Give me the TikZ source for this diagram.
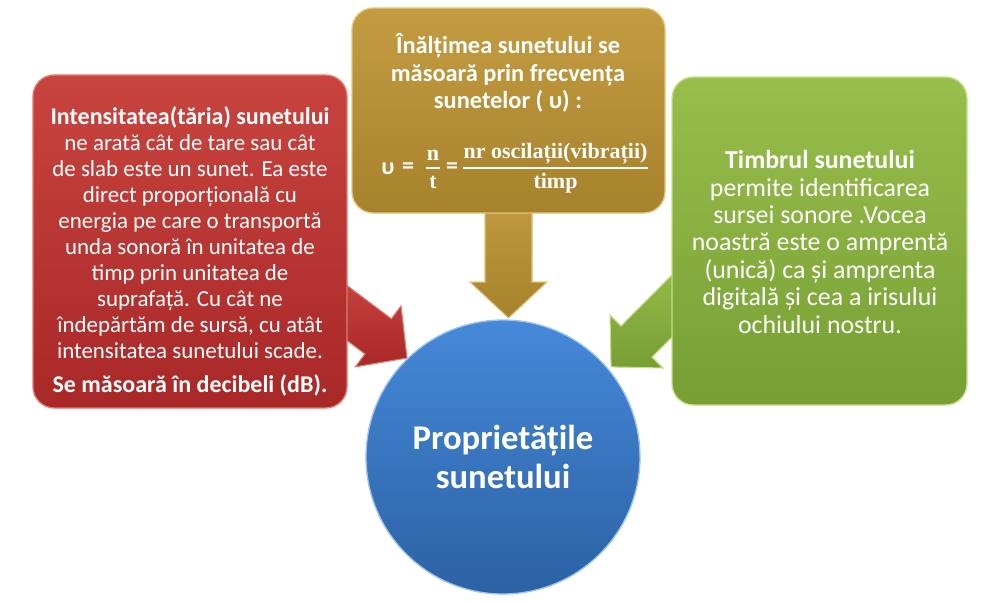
\documentclass[tikz,border=0pt]{standalone}
\usepackage{fontspec}
\setmainfont{Carlito}
\newfontfamily\formfont{Liberation Serif}
\definecolor{redT}{HTML}{C8443E}
\definecolor{redB}{HTML}{A82828}
\definecolor{redE}{HTML}{E07A72}
\definecolor{goldT}{HTML}{C49C42}
\definecolor{goldB}{HTML}{A6822C}
\definecolor{goldE}{HTML}{E2C47A}
\definecolor{greenT}{HTML}{98BF4C}
\definecolor{greenB}{HTML}{779E33}
\definecolor{greenE}{HTML}{C6E08A}
\definecolor{blueT}{HTML}{4589D8}
\definecolor{blueB}{HTML}{2C61A4}
\definecolor{blueE}{HTML}{9CC4F0}
\begin{document}
\begin{tikzpicture}[x=0.75pt,y=-0.75pt,
  box/.style={rectangle, rounded corners=16pt, inner sep=0pt, outer sep=0pt, line width=1pt},
  txt/.style={text=white, align=center, inner sep=0pt},
  barrow/.style={line width=0.8pt, line join=miter}]
\useasboundingbox (0,0) rectangle (1000,603);
% block arrows (drawn behind boxes)
\filldraw[barrow, draw=redE, top color=redT, bottom color=redB]
  (332.2,274.4) -- (391.4,318.8) -- (401.0,306.0) -- (407,358) -- (355.4,366.8) -- (365.0,354.0) -- (305.8,309.6) -- cycle;
\filldraw[barrow, draw=goldE, top color=goldT, bottom color=goldB]
  (485,190) -- (532,190) -- (532,282) -- (547,282) -- (508.5,318) -- (470,282) -- (485,282) -- cycle;
\filldraw[barrow, draw=greenE, top color=greenT, bottom color=greenB]
  (694.5,252.3) -- (621.0,326.0) -- (610,315) -- (611.1,366.9) -- (663,368) -- (652,357) -- (725.7,283.5) -- cycle;
% boxes
\node[box, draw=redE, top color=redT, bottom color=redB, minimum width=235.5pt, minimum height=249.75pt] (red) at (190,241.5) {};
\node[box, draw=goldE, top color=goldT, bottom color=goldB, minimum width=234.75pt, minimum height=153.75pt] (gold) at (508.5,110.5) {};
\node[box, draw=greenE, top color=greenT, bottom color=greenB, minimum width=221.25pt, minimum height=246pt] (green) at (819.5,241) {};
\node[circle, draw=blueE, line width=1pt, top color=blueT, bottom color=blueB, minimum size=205.5pt, inner sep=0pt] (blue) at (503,457) {};
% texts
\node[txt, font=\fontsize{17.2}{19.5}\selectfont] (redtxt) at (190,251)
 {{\fontsize{18}{19.5}\selectfont\textbf{Intensitatea(tăria) sunetului}}\\
  ne arată cât de tare sau cât\\
  de slab este un sunet. Ea este\\
  direct proporțională cu\\
  energia pe care o transportă\\
  unda sonoră în unitatea de\\
  timp prin unitatea de\\
  suprafață. Cu cât ne\\
  îndepărtăm de sursă, cu atât\\
  intensitatea sunetului scade.\\[6pt]
  {\fontsize{18}{19.5}\selectfont\textbf{Se măsoară în decibeli (dB).}}};
\node[txt, font=\bfseries\fontsize{18.3}{20.5}\selectfont] (goldtxt) at (508,73)
 {Înălțimea sunetului se\\ măsoară prin frecvența\\ sunetelor ( υ) :};
% formula
\node[txt, font=\bfseries\fontsize{18}{20}\selectfont] (fv) at (388,169) {υ};
\node[txt, font=\bfseries\fontsize{18}{20}\selectfont] (feq1) at (408,168) {=};
\node[txt, font=\formfont\bfseries\fontsize{16.5}{18}\selectfont] (fn) at (433,155) {n};
\node[txt, font=\formfont\bfseries\fontsize{16.5}{18}\selectfont] (ft) at (433,182) {t};
\coordinate (fl1a) at (426,168);
\coordinate (fl1b) at (440,168);
\draw[white, line width=1.3pt] (fl1a) -- (fl1b);
\node[txt, font=\bfseries\fontsize{18}{20}\selectfont] (feq2) at (452,168) {=};
\node[txt, font=\formfont\bfseries\fontsize{16.5}{18}\selectfont] (fnum) at (555.5,154) {nr oscilații(vibrații)};
\node[txt, font=\formfont\bfseries\fontsize{16.5}{18}\selectfont] (fden) at (555.5,183) {timp};
\coordinate (fl2a) at (463,168);
\coordinate (fl2b) at (648,168);
\draw[white, line width=1.3pt] (fl2a) -- (fl2b);
\node[txt, font=\fontsize{19.4}{20.6}\selectfont] (greentxt) at (820,242)
 {\textbf{Timbrul sunetului}\\
  permite identificarea\\
  sursei sonore .Vocea\\
  noastră este o amprentă\\
  (unică) ca și amprenta\\
  digitală și cea a irisului\\
  ochiului nostru.};
\node[txt, font=\bfseries\fontsize{26}{29.5}\selectfont] (bluetxt) at (503,457)
 {Proprietățile\\ sunetului};
\end{tikzpicture}
\end{document}
